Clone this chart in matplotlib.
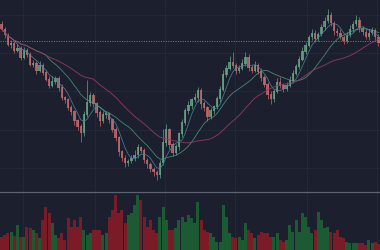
import numpy as np
import pandas as pd
import matplotlib
matplotlib.use("Agg")
import matplotlib.pyplot as plt

# closing prices (arbitrary price units)
closes = [221, 215, 206, 207, 200, 202, 193, 200, 196, 186,
          187, 180, 185, 178, 171, 165, 169, 172, 163, 153,
          151, 143, 139, 130, 124, 118, 136, 148, 155, 147,
          138, 130, 136, 137, 131, 121, 113, 99, 93, 88,
          90, 93, 96, 103, 100, 91, 87, 82, 79, 76,
          88, 108, 121, 106, 98, 104, 117, 128, 140, 145,
          151, 153, 160, 147, 143, 134, 140, 144, 152, 161,
          176, 182, 188, 185, 180, 182, 187, 193, 183, 180,
          185, 179, 173, 166, 156, 152, 159, 168, 165, 162,
          165, 170, 177, 184, 191, 199, 205, 213, 217, 212,
          216, 223, 229, 235, 227, 219, 217, 213, 210, 215,
          221, 226, 230, 222, 218, 213, 217, 220, 213, 208]
first_open = 226

# wick lengths above / below the body
upper_wick = [3, 2, 2, 3, 2, 4, 2, 3, 2, 2,
              3, 2, 4, 2, 2, 3, 5, 2, 2, 3,
              2, 2, 3, 2, 2, 3, 4, 22, 3, 2,
              2, 3, 4, 3, 2, 2, 3, 2, 2, 3,
              2, 3, 5, 4, 2, 3, 2, 2, 2, 2,
              3, 14, 6, 2, 3, 3, 2, 4, 3, 5,
              2, 4, 3, 2, 3, 2, 3, 2, 3, 3,
              4, 3, 6, 10, 2, 3, 4, 5, 3, 2,
              4, 2, 3, 2, 2, 3, 2, 4, 5, 2,
              3, 4, 3, 2, 3, 4, 3, 2, 4, 3,
              2, 3, 4, 6, 3, 2, 3, 4, 2, 3,
              4, 3, 5, 3, 2, 3, 4, 3, 2, 3]
lower_wick = [2, 3, 2, 4, 3, 2, 3, 2, 3, 2,
              3, 4, 2, 3, 2, 3, 2, 3, 4, 2,
              3, 2, 3, 4, 3, 9, 3, 2, 3, 3,
              4, 5, 2, 3, 3, 2, 3, 4, 3, 4,
              3, 2, 3, 3, 2, 3, 4, 3, 4, 5,
              3, 2, 3, 4, 3, 2, 3, 3, 2, 3,
              3, 2, 4, 5, 3, 4, 2, 3, 2, 3,
              2, 3, 2, 3, 4, 3, 2, 3, 4, 3,
              2, 3, 4, 3, 4, 5, 3, 2, 3, 4,
              3, 2, 3, 2, 3, 2, 3, 2, 3, 4,
              3, 2, 3, 2, 3, 4, 3, 2, 4, 3,
              2, 3, 2, 4, 3, 2, 3, 2, 3, 4]

volumes = [13, 15, 17, 18, 14, 25, 13, 13, 23, 22,
           20, 17, 12, 30, 43, 37, 27, 15, 12, 17,
           10, 32, 23, 30, 23, 33, 20, 15, 17, 20,
           20, 20, 15, 17, 33, 40, 55, 37, 40, 27,
           35, 37, 45, 55, 50, 33, 23, 30, 20, 17,
           33, 43, 30, 20, 20, 22, 30, 33, 28, 35,
           32, 27, 48, 30, 20, 18, 17, 13, 8, 8,
           45, 33, 17, 13, 12, 13, 10, 27, 20, 17,
           12, 15, 18, 17, 17, 13, 13, 17, 10, 8,
           10, 25, 18, 30, 18, 37, 33, 23, 17, 20,
           38, 30, 22, 23, 18, 17, 20, 13, 12, 8,
           7, 7, 7, 7, 7, 5, 10, 7, 8, 6]

ref_level = 209.5

bg = "#1b1f2e"
grid_c = "#252a3a"
up_c = "#6aa788"
down_c = "#c86e70"

closes = np.array(closes, dtype=float)
opens = np.r_[first_open, closes[:-1]]
highs = np.maximum(opens, closes) + np.array(upper_wick)
lows = np.minimum(opens, closes) - np.array(lower_wick)
n = len(closes)
x = np.arange(n)
is_up = closes >= opens

s = pd.Series(closes)
ma_fast = s.rolling(5, min_periods=1).mean()
ma_mid = s.rolling(15, min_periods=1).mean()
ma_slow = s.rolling(30, min_periods=1).mean()

fig = plt.figure(figsize=(3.8, 2.5), dpi=100, facecolor=bg)
ax = fig.add_axes([0, 0.236, 1, 0.764], facecolor=bg)
axv = fig.add_axes([0, 0, 1, 0.236], facecolor=bg)

for a in (ax, axv):
    a.set_xlim(-0.5, n - 0.5)
    a.set_xticks([6.8, 29.5, 51.6, 73.7, 96.4, 118.5])
    a.grid(True, color=grid_c, linewidth=0.6)
    a.tick_params(length=0, labelbottom=False, labelleft=False)
    for sp in a.spines.values():
        sp.set_visible(False)
    a.set_axisbelow(True)

ax.set_ylim(60, 250)
ax.set_yticks([83, 121, 159, 197, 235])
axv.set_ylim(0, 59)
axv.set_yticks([])

# candles
cols = np.where(is_up, up_c, down_c)
ax.vlines(x, lows, highs, colors=cols, linewidth=0.6, alpha=0.8)
ax.bar(x, np.abs(closes - opens) + 0.6, bottom=np.minimum(opens, closes) - 0.3,
       width=0.7, color=cols, alpha=0.8, linewidth=0)

ax.plot(x, ma_fast, color="#4a86a0", linewidth=0.6, alpha=0.85)
ax.plot(x, ma_mid, color="#4e9a7c", linewidth=0.6, alpha=0.85)
ax.plot(x, ma_slow, color="#8e3a62", linewidth=0.7, alpha=0.9)

ax.axhline(ref_level, color="#7c8090", linewidth=0.7, linestyle=(0, (1, 1.5)))

# volume
vcols = np.where(is_up, "#1d6534", "#8e1b28")
axv.bar(x, volumes, width=0.9, color=vcols, alpha=0.85, linewidth=0)
axv.axhline(58.3, color="#5d6272", linewidth=0.9)

fig.savefig("out.png", dpi=100, facecolor=bg)
